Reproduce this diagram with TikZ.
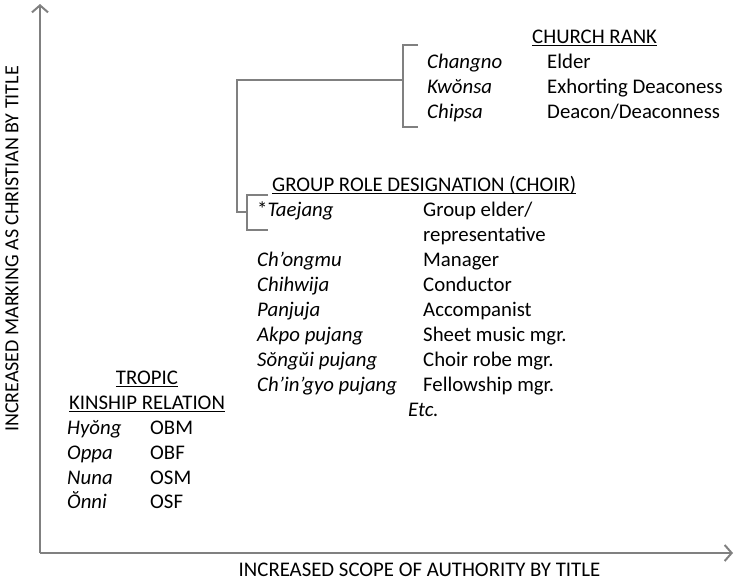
\documentclass[tikz,border=0pt]{standalone}
\usepackage{fontspec}
\setmainfont{Carlito}
\usetikzlibrary{arrows.meta}
\newcommand\ulx[1]{\setbox0\hbox{#1}\rlap{\rule[-2.6pt]{\wd0}{1pt}}\box0}
\newcommand\fsz{\fontsize{20.8}{25}\selectfont}
\begin{document}
\begin{tikzpicture}[x=1pt,y=-1pt,
  txt/.style={inner sep=0pt,anchor=base west,font=\fsz},
  ctxt/.style={inner sep=0pt,anchor=base,font=\fsz},
  it/.style={txt,font=\fsz\itshape},
  axis/.style={draw=black!50,line width=2.6pt,-{Straight Barb[length=7pt,width=16pt,line width=2pt]}},
  brk/.style={draw=black!50,line width=2.4pt}]
\useasboundingbox (0,0) rectangle (735,581);
% axes
\coordinate (o) at (40,553);
\coordinate (ytip) at (40,4);
\coordinate (xtip) at (733,553);
\draw[axis] (o) -- (ytip);
\draw[axis] (o) -- (xtip);
\node[ctxt,anchor=center,rotate=90,font=\fontsize{20}{25}\selectfont] (ylab) at (12,249) {INCREASED MARKING AS CHRISTIAN BY TITLE};
\node[ctxt] (xlab) at (419.5,576) {INCREASED SCOPE OF AUTHORITY BY TITLE};
% brackets
\coordinate (ua) at (418,45);
\coordinate (ub) at (403,45);
\coordinate (uc) at (403,127);
\coordinate (ud) at (418,127);
\coordinate (um) at (403,80);
\coordinate (oa) at (237,80);
\coordinate (ob) at (237,212);
\coordinate (la) at (268,195);
\coordinate (lb) at (247,195);
\coordinate (lc) at (247,230);
\coordinate (ld) at (268,230);
\coordinate (lm) at (247,212);
\draw[brk] (ua) -- (ub) -- (uc) -- (ud);
\draw[brk] (la) -- (lb) -- (lc) -- (ld);
\draw[brk,line join=miter] (um) -- (oa) -- (ob) -- (lm);
% church rank
\node[txt] (chr) at (532,43.5) {\ulx{CHURCH RANK}};
\node[it] (c1) at (427,68.5) {Changno};
\node[txt] (c1e) at (547,68.5) {Elder};
\node[it] (c2) at (427,93.5) {Kwŏnsa};
\node[txt] (c2e) at (547,93.5) {Exhorting Deaconess};
\node[it] (c3) at (427,118.5) {Chipsa};
\node[txt] (c3e) at (547,118.5) {Deacon/Deaconness};
% choir
\node[txt] (grp) at (272,191.5) {\ulx{GROUP ROLE DESIGNATION (CHOIR)}};
\node[txt] (g1) at (257,216.5) {*\textit{Taejang}};
\node[txt] (g1e) at (423,216.5) {Group elder/};
\node[txt] (g1f) at (423,241.5) {representative};
\node[it] (g2) at (257,266.5) {Ch’ongmu};
\node[txt] (g2e) at (423,266.5) {Manager};
\node[it] (g3) at (257,291.5) {Chihwija};
\node[txt] (g3e) at (423,291.5) {Conductor};
\node[it] (g4) at (257,316.5) {Panjuja};
\node[txt] (g4e) at (423,316.5) {Accompanist};
\node[it] (g5) at (257,341.5) {Akpo pujang};
\node[txt] (g5e) at (423,341.5) {Sheet music mgr.};
\node[it] (g6) at (257,366.5) {Sŏngŭi pujang};
\node[txt] (g6e) at (423,366.5) {Choir robe mgr.};
\node[it] (g7) at (257,391.5) {Ch’in’gyo pujang};
\node[txt] (g7e) at (423,391.5) {Fellowship mgr.};
\node[it] (etc) at (408,416.5) {Etc.};
% tropic
\node[ctxt] (tr1) at (147,384.5) {\ulx{TROPIC}};
\node[ctxt] (tr2) at (147,409.5) {\ulx{KINSHIP RELATION}};
\node[it] (k1) at (67,434.5) {Hyŏng};
\node[txt] (k1e) at (150,434.5) {OBM};
\node[it] (k2) at (67,459.5) {Oppa};
\node[txt] (k2e) at (150,459.5) {OBF};
\node[it] (k3) at (67,484.5) {Nuna};
\node[txt] (k3e) at (150,484.5) {OSM};
\node[it] (k4) at (67,508.5) {Ŏnni};
\node[txt] (k4e) at (150,508.5) {OSF};
\end{tikzpicture}
\end{document}
